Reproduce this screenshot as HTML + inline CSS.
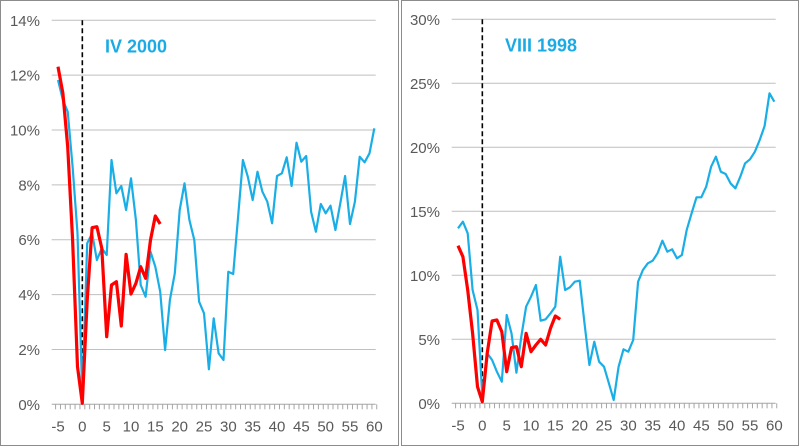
<!DOCTYPE html>
<html><head><meta charset="utf-8"><style>
html,body{margin:0;padding:0;background:#fff;width:800px;height:447px;overflow:hidden}
svg{display:block;font-family:"Liberation Sans",sans-serif}
</style></head><body>
<svg id="s" width="800" height="447" xmlns="http://www.w3.org/2000/svg"></svg>
<script>
const S=document.getElementById('s');
let h='';
h+='<rect x="0.5" y="0.5" width="398" height="445" fill="none" stroke="#8c8c8c"/>';
h+='<rect x="401.5" y="0.5" width="397" height="445" fill="none" stroke="#8c8c8c"/>';
function panel(ox,y0,ytop,n,step,lab,title,blue,red){
  // gridlines
  for(let k=0;k<=n;k++){
    const y=y0-(y0-ytop)*k/n;
    if(k>0)h+=`<line x1="${ox+51.7}" x2="${ox+375.7}" y1="${y}" y2="${y}" stroke="#bfbfbf" stroke-width="1"/>`;
    h+=`<text x="${ox+40}" y="${y+5.5}" text-anchor="end" font-size="15" fill="#595959">${k*step}%</text>`;
  }
  h+=`<line x1="${ox+51.7}" x2="${ox+375.7}" y1="${y0}" y2="${y0}" stroke="#a6a6a6"/>`;
  const X=i=>ox+(174+(i+5)*14.6)/3;
  for(let i=-5;i<=60;i++){
    const x=X(i)-2.4;
    h+=`<line x1="${x}" x2="${x}" y1="${y0}" y2="${y0+5}" stroke="#a6a6a6"/>`;
  }
  h+=`<line x1="${X(60)+2.4}" x2="${X(60)+2.4}" y1="${y0}" y2="${y0+5}" stroke="#a6a6a6"/>`;
  for(let i=-5;i<=60;i+=5){
    h+=`<text x="${X(i)}" y="${y0+27}" text-anchor="middle" font-size="15" fill="#595959">${i}</text>`;
  }
  h+=`<line x1="${X(0)}" x2="${X(0)}" y1="${ytop}" y2="${y0}" stroke="#000" stroke-width="1.6" stroke-dasharray="5,3"/>`;
  h+=`<text x="${ox+105}" y="${ytop+32}" font-size="18" font-weight="bold" fill="#1aabe6">${title}</text>`;
  const pl=(d,c,w)=>{h+=`<polyline fill="none" stroke="${c}" stroke-width="${w}" stroke-linejoin="round" points="${d.map((v,j)=>X(j-5).toFixed(1)+','+(v/3).toFixed(1)).join(' ')}"/>`;};
  pl(blue,'#1aaee6',2.2);pl(red,'#ff0000',3.2);
}
panel(0,404.3,20.3,7,2,'','IV 2000',
[240,300,335,500,700,1190,730,700,780,745,765,480,580,558,630,535,660,855,890,755,800,875,1050,900,820,630,550,660,720,905,940,1108,955,1060,1080,815,822,650,480,530,600,515,575,605,670,528,520,472,558,428,485,468,635,695,612,640,617,690,610,528,672,605,470,487,460,385],
[200,280,440,720,1100,1210,900,683,680,745,1010,855,845,978,763,882,850,800,835,720,648,672]);
panel(400,403.3,19.3,6,5,'','VIII 1998',
[685,665,700,870,930,1190,1060,1080,1115,1145,945,1000,1118,1010,920,890,855,962,958,940,920,770,870,862,845,842,970,1095,1025,1085,1100,1150,1200,1100,1048,1055,1020,845,810,790,782,760,722,755,748,775,765,690,640,592,592,560,500,470,515,522,550,565,530,490,478,455,420,378,280,305],
[737,770,870,1000,1160,1205,1060,963,960,995,1115,1043,1040,1100,1000,1055,1035,1018,1035,985,948,958]);
S.innerHTML=h;
</script>
</body></html>
